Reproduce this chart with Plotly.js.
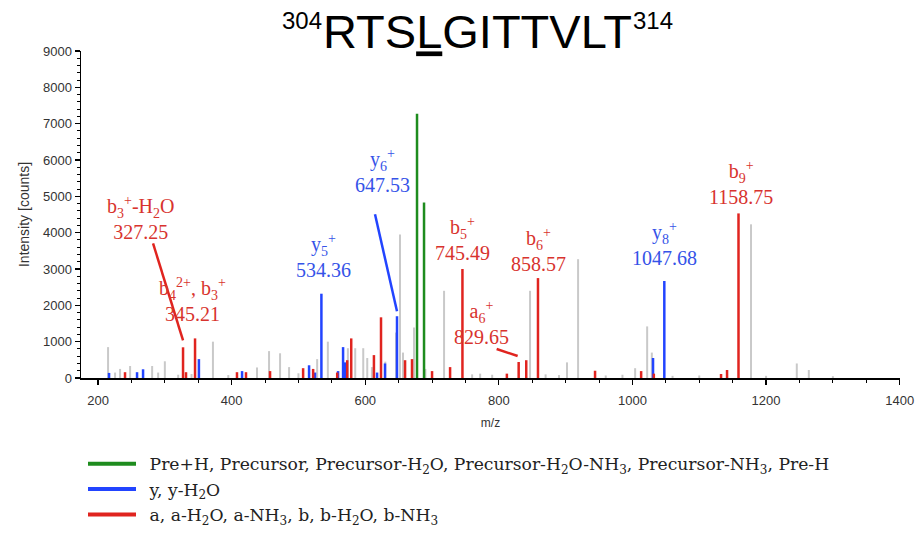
<!DOCTYPE html>
<html>
<head>
<meta charset="utf-8">
<script src="https://cdn.plot.ly/plotly-3.0.1.min.js"></script>
<style>html,body{margin:0;padding:0;background:#fff;}#chart{width:917px;height:533px;}</style>
</head>
<body>
<div id="chart"></div>
<script>
// ---- data (m/z, intensity [counts]) ----
const grayMz  = [215, 225.5, 233, 248, 281, 290, 300, 320, 340, 372, 395, 438, 456, 472.5, 486, 500, 528, 544, 574, 585, 597, 603, 610, 630, 646, 652, 656.5, 673, 690, 718, 760, 772, 790, 846.7, 870, 890, 902, 918.6, 960, 985, 1004, 1022, 1029, 1060, 1100, 1177.5, 1200, 1246, 1264, 1300];
const grayInt = [850, 150, 250, 330, 330, 150, 460, 90, 110, 1000, 80, 290, 740, 680, 300, 130, 520, 1000, 820, 820, 820, 550, 300, 450, 1250, 3950, 700, 1390, 250, 2400, 100, 120, 90, 2400, 100, 80, 430, 3270, 70, 90, 270, 1420, 700, 60, 70, 4230, 60, 400, 220, 50];

const greenMz  = [677.5, 688];
const greenInt = [7270, 4830];

const blueMz  = [216.5, 258.4, 267.4, 351, 415.6, 515.9, 524.8, 534.36, 559.3, 566.8, 569.8, 617.7, 629.6, 647.53, 1030.8, 1047.68];
const blueInt = [140, 160, 240, 520, 190, 350, 150, 2320, 190, 850, 430, 150, 400, 1700, 550, 2670];

const redMz  = [240.4, 327.25, 331.7, 345.21, 408, 421.5, 457.5, 507, 522, 558, 573, 579, 613, 623.6, 659.6, 670, 700, 727, 745.49, 812, 829.65, 841, 858.57, 944, 1013, 1032, 1132.6, 1141.6, 1158.75];
const redInt = [160, 845, 160, 1090, 160, 160, 190, 270, 250, 150, 490, 1090, 630, 1670, 490, 520, 190, 300, 3000, 120, 440, 490, 2750, 200, 190, 120, 110, 220, 4530];

const legendNames = [
  'Pre+H, Precursor, Precursor-H<sub>2</sub>O, Precursor-H<sub>2</sub>O-NH<sub>3</sub>, Precursor-NH<sub>3</sub>, Pre-H',
  'y, y-H<sub>2</sub>O',
  'a, a-H<sub>2</sub>O, a-NH<sub>3</sub>, b, b-H<sub>2</sub>O, b-NH<sub>3</sub>'
];

const titleMain = 'RTS<u>L</u>GITTVLT';
const titleStart = '304';
const titleEnd = '314';

// annotated peaks
const labelSeries = ['red', 'red', 'blue', 'blue', 'red', 'red', 'red', 'blue', 'red'];
const labelMz     = [327.25, 345.21, 534.36, 647.53, 745.49, 829.65, 858.57, 1047.68, 1158.75];
const labelText   = [
  'b<sub>3</sub><sup>+</sup>-H<sub>2</sub>O<br>327.25',
  'b<sub>4</sub><sup>2+</sup>, b<sub>3</sub><sup>+</sup><br>345.21',
  'y<sub>5</sub><sup>+</sup><br>534.36',
  'y<sub>6</sub><sup>+</sup><br>647.53',
  'b<sub>5</sub><sup>+</sup><br>745.49',
  'a<sub>6</sub><sup>+</sup><br>829.65',
  'b<sub>6</sub><sup>+</sup><br>858.57',
  'y<sub>8</sub><sup>+</sup><br>1047.68',
  'b<sub>9</sub><sup>+</sup><br>1158.75'
];
// label placement (pixels relative to peak top)
const labelShiftX = [-43, -3, 2, -15, 0, -37, 1, 0, 2];
const labelShiftY = [102, 11, 11, 118, 3, 12, 1, 10, 3];
// leader lines: which label, pixel offsets [x0, y0, x1, y1] from the peak top
const leaderIdx = [0, 3, 5];
const leaderOff = [[-30, 104, 0, 7], [-22, 102, 0, 5], [-22, 13, -1, 6]];

// ---- colours ----
const COL = {gray: '#c9c9c9', green: '#1e8c1e', blue: '#2244ff', red: '#e0241f'};
const TXT = {blue: '#3553e8', red: '#d8332e'};
const series = {
  red: {mz: redMz, it: redInt},
  blue: {mz: blueMz, it: blueInt},
  green: {mz: greenMz, it: greenInt}
};

function sticks(mz, it) {
  const x = [], y = [];
  for (let i = 0; i < mz.length; i++) { x.push(mz[i], mz[i], null); y.push(0, it[i], null); }
  return {x, y};
}
function peakInt(s, mz) {
  const d = series[s];
  return d.it[d.mz.indexOf(mz)];
}

const g = sticks(grayMz, grayInt), gr = sticks(greenMz, greenInt), b = sticks(blueMz, blueInt), r = sticks(redMz, redInt);
const legendCols = [COL.green, COL.blue, COL.red];
const traces = [
  {x: g.x, y: g.y, mode: 'lines', line: {color: COL.gray, width: 2}, showlegend: false, hoverinfo: 'skip'},
  {x: gr.x, y: gr.y, mode: 'lines', line: {color: COL.green, width: 2.5}, showlegend: false},
  {x: b.x, y: b.y, mode: 'lines', line: {color: COL.blue, width: 2.5}, showlegend: false},
  {x: r.x, y: r.y, mode: 'lines', line: {color: COL.red, width: 2.5}, showlegend: false}
].concat(legendNames.map((n, i) => ({
  x: [null], y: [null], mode: 'lines', line: {color: legendCols[i], width: 4},
  name: '\u2002' + n, legendgroup: 'g' + i, showlegend: true
})));

const annotations = labelMz.map((mz, i) => ({
  x: mz, y: peakInt(labelSeries[i], mz), xref: 'x', yref: 'y',
  text: labelText[i], showarrow: false, xanchor: 'center', yanchor: 'bottom',
  xshift: labelShiftX[i], yshift: labelShiftY[i], align: 'center',
  font: {family: 'Liberation Serif, Times New Roman, serif', size: 20, color: TXT[labelSeries[i]]}
}));
const titleFont = {family: 'Liberation Sans, Arial, sans-serif', color: '#000'};
annotations.push(
  {xref: 'paper', yref: 'paper', x: (324 - 81) / 819, y: 1.092, xanchor: 'right', yanchor: 'middle', showarrow: false,
   text: titleStart, font: Object.assign({size: 24}, titleFont)},
  {xref: 'paper', yref: 'paper', x: (631 - 81) / 819, y: 1.092, xanchor: 'left', yanchor: 'middle', showarrow: false,
   text: titleEnd, font: Object.assign({size: 24}, titleFont)}
);

const shapes = leaderIdx.map((li, k) => ({
  type: 'line', xref: 'x', yref: 'y', xsizemode: 'pixel', ysizemode: 'pixel',
  xanchor: labelMz[li], yanchor: peakInt(labelSeries[li], labelMz[li]),
  x0: leaderOff[k][0], y0: leaderOff[k][1], x1: leaderOff[k][2], y1: leaderOff[k][3],
  line: {color: COL[labelSeries[li]], width: 2.5}
}));

const axisFont = {family: 'Liberation Sans, Arial, sans-serif', size: 13, color: '#333'};
const layout = {
  width: 917, height: 533,
  margin: {l: 81, r: 17, t: 51, b: 155, pad: 0, autoexpand: false},
  paper_bgcolor: '#fff', plot_bgcolor: '#fff',
  title: {
    text: titleMain,
    font: Object.assign({size: 47}, titleFont),
    xref: 'container', x: 477.5 / 917, xanchor: 'center',
    yref: 'container', y: 1 - 32 / 533, yanchor: 'middle'
  },
  xaxis: {
    range: [174.5, 1400.5], tick0: 200, dtick: 200, ticks: 'outside', ticklen: 5, tickwidth: 1.2, tickcolor: '#000',
    showline: true, linecolor: '#000', linewidth: 1.5, showgrid: false, zeroline: false,
    tickfont: axisFont, ticklabelstandoff: 5,
    minor: {dtick: 50, tick0: 200, ticks: 'outside', ticklen: 3, tickwidth: 1, tickcolor: '#000', showgrid: false},
    title: {text: 'm/z', font: {family: 'Liberation Sans, Arial, sans-serif', size: 12, color: '#333'}, standoff: 11}
  },
  yaxis: {
    range: [0, 9000], tick0: 0, dtick: 1000, ticks: 'outside', ticklen: 5, tickwidth: 1.2, tickcolor: '#000',
    showline: true, linecolor: '#000', linewidth: 1.5, showgrid: false, zeroline: false,
    tickfont: axisFont, ticklabelstandoff: 0,
    minor: {dtick: 200, ticks: 'outside', ticklen: 3, tickwidth: 1, tickcolor: '#000', showgrid: false},
    title: {text: 'Intensity [counts]', font: {family: 'Liberation Sans, Arial, sans-serif', size: 14, color: '#333'}, standoff: 10}
  },
  showlegend: true,
  legend: {
    orientation: 'v', x: 2 / 819, xanchor: 'left',
    y: (378 - 446) / 327, yanchor: 'top',
    font: {family: 'DejaVu Serif, serif', size: 17.2, color: '#222'},
    tracegroupgap: 7.5, itemwidth: 48, bgcolor: 'rgba(0,0,0,0)', traceorder: 'normal'
  },
  annotations: annotations,
  shapes: shapes
};

Plotly.newPlot('chart', traces, layout, {displayModeBar: false, staticPlot: true});
</script>
</body>
</html>
